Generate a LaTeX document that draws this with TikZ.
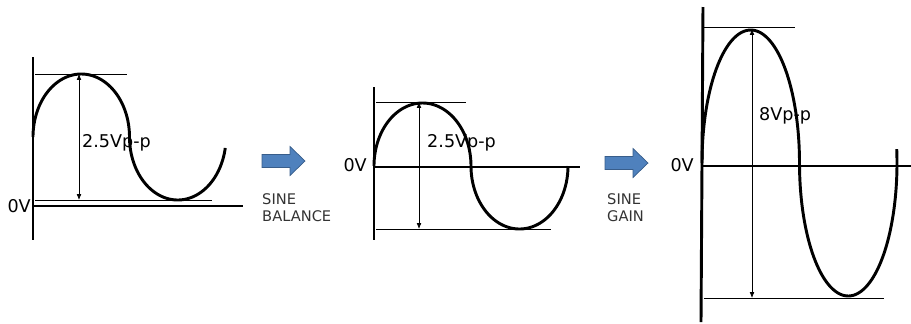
\documentclass[tikz,border=0pt]{standalone}
\usepackage{fontspec}
\setmainfont{DejaVu Sans}
\usepackage{tikz}
\usetikzlibrary{arrows.meta,positioning,calc}

\definecolor{arrowblue}{RGB}{79,129,189}
\definecolor{arrowedge}{RGB}{56,93,138}

\tikzset{
	axisline/.style={line width=2.5pt},
	wave/.style={line width=2.5pt, smooth},
	level/.style={line width=0.6pt},
	span/.style={line width=0.6pt, {Latex[length=5pt,width=4pt]}-{Latex[length=5pt,width=4pt]}},
	lbl/.style={font=\fontsize{15}{18}\selectfont, inner sep=0pt},
	caption/.style={font=\fontsize{12.5}{15}\selectfont, inner sep=0pt, text=black!80},
}

\begin{document}
\begin{tikzpicture}[x=0.03cm, y=-0.03cm]
		\useasboundingbox (0,0) rectangle (911,323);

		% first panel: offset wave
		\draw[axisline] (33,57) -- (33,240);
		\draw[axisline] (33,206) -- (243,206);
		\coordinate (top1) at (79,74);
		\coordinate (bot1) at (79,200);
		\draw[level] (35,74) -- (127,74);
		\draw[level] (35,200) -- (212,200);
		\draw[span] (top1) -- (bot1);
		\draw[wave] plot[domain=0:350, samples=141] ({\x<180 ? 33+48.25-48.25*cos(\x) : 33+144.75+48.25*cos(\x)}, {137-63*sin(\x)});
		\node[lbl, anchor=base west] (pp1) at (82,147) {2.5Vp-p};
		\node[lbl, anchor=base east] (zero1) at (31,212) {0V};

		% arrows between the panels
		\foreach \ax/\ay in {262/161, 605/163} {
		\fill[arrowblue, draw=arrowedge, line width=0.6pt] (\ax,\ay-6.5) -- ++(28,0) -- ++(0,-8) -- (\ax+43,\ay) -- (\ax+28,\ay+14.5) -- ++(0,-8) -- (\ax,\ay+6.5) -- cycle;
		}
		\node[caption, anchor=base west] (sine1) at (262,204) {SINE};
		\node[caption, anchor=base west] (balance) at (262,221) {BALANCE};
		\node[caption, anchor=base west] (sine2) at (607,204) {SINE};
		\node[caption, anchor=base west] (gain) at (607,221) {GAIN};

		% second panel: balanced wave
		\draw[axisline] (374,87) -- (374,240);
		\draw[axisline] (374,167) -- (580,167);
		\coordinate (top2) at (419,102);
		\coordinate (bot2) at (419,229);
		\draw[level] (376,102) -- (466,102);
		\draw[level] (376,229) -- (551,229);
		\draw[span] (top2) -- (bot2);
		\draw[wave] plot[domain=0:360, samples=145] ({\x<180 ? 374+48.5-48.5*cos(\x) : 374+145.5+48.5*cos(\x)}, {166-63*sin(\x)});
		\node[lbl, anchor=base west] (pp2) at (427,147) {2.5Vp-p};
		\node[lbl, anchor=base east] (zero2) at (367,171) {0V};

		% third panel: gain applied
		\draw[axisline] (703,7) -- (701,322);
		\draw[axisline] (702,166) -- (911,166);
		\coordinate (top3) at (752,29);
		\coordinate (bot3) at (752,298);
		\draw[level] (704,27) -- (795,27);
		\draw[level] (704,298) -- (884,298);
		\draw[span] (top3) -- (bot3);
		\draw[wave] plot[domain=0:366, samples=147] ({\x<180 ? 702+48.75-48.75*cos(\x) : 702+146.25+48.75*cos(\x)}, {163-133*sin(\x)});
		\node[lbl, anchor=base west] (pp3) at (759,120) {8Vp-p};
		\node[lbl, anchor=base east] (zero3) at (694,171) {0V};
	\end{tikzpicture}
\end{document}
